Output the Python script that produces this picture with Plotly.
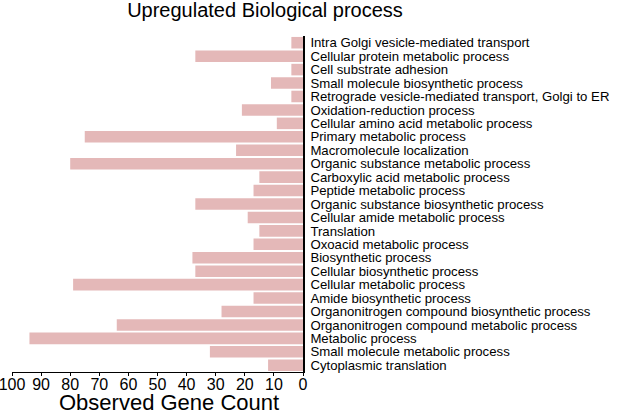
import plotly.graph_objects as go

categories = [
    "Intra Golgi vesicle-mediated transport",
    "Cellular protein metabolic process",
    "Cell substrate adhesion",
    "Small molecule biosynthetic process",
    "Retrograde vesicle-mediated transport, Golgi to ER",
    "Oxidation-reduction process",
    "Cellular amino acid metabolic process",
    "Primary metabolic process",
    "Macromolecule localization",
    "Organic substance metabolic process",
    "Carboxylic acid metabolic process",
    "Peptide metabolic process",
    "Organic substance biosynthetic process",
    "Cellular amide metabolic process",
    "Translation",
    "Oxoacid metabolic process",
    "Biosynthetic process",
    "Cellular biosynthetic process",
    "Cellular metabolic process",
    "Amide biosynthetic process",
    "Organonitrogen compound biosynthetic process",
    "Organonitrogen compound metabolic process",
    "Metabolic process",
    "Small molecule metabolic process",
    "Cytoplasmic translation",
]
counts = [4, 37, 4, 11, 4, 21, 9, 75, 23, 80, 15, 17, 37, 19, 15, 17, 38, 37, 79, 17, 28, 64, 94, 32, 12]
tick_vals = [100, 90, 80, 70, 60, 50, 40, 30, 20, 10, 0]

FONT = "Liberation Sans, Arial, sans-serif"

fig = go.Figure(
    go.Bar(
        x=counts,
        y=categories,
        orientation="h",
        marker=dict(color="rgb(228,184,184)", line=dict(width=0)),
        width=0.86,
    )
)

fig.update_layout(
    width=625,
    height=412,
    paper_bgcolor="white",
    plot_bgcolor="white",
    margin=dict(l=12, r=322, t=36, b=40, autoexpand=False),
    showlegend=False,
    font=dict(family=FONT, color="black"),
    title=dict(
        text="Upregulated Biological process",
        x=265 / 625,
        xanchor="center",
        y=1 - 10 / 412,
        yanchor="middle",
        font=dict(size=20, family=FONT, color="black"),
    ),
    annotations=[
        dict(
            text="Observed Gene Count",
            xref="paper",
            yref="paper",
            x=(169 - 12) / 291,
            y=0,
            yshift=-30,
            xanchor="center",
            yanchor="middle",
            showarrow=False,
            font=dict(size=22, family=FONT, color="black"),
        )
    ],
)

fig.update_xaxes(
    range=[100, 0],
    tickmode="array",
    tickvals=tick_vals,
    ticktext=[str(v) for v in tick_vals],
    showline=True,
    linecolor="black",
    linewidth=1,
    ticks="outside",
    ticklen=3,
    tickcolor="black",
    tickfont=dict(size=16, family=FONT, color="black"),
    ticklabelstandoff=-5,
    ticklabeloverflow="allow",
    automargin=False,
    showgrid=False,
    zeroline=False,
)

fig.update_yaxes(
    categoryorder="array",
    categoryarray=categories,
    tickmode="array",
    tickvals=categories,
    ticktext=categories,
    autorange="reversed",
    side="right",
    showline=True,
    linecolor="black",
    linewidth=1.5,
    ticks="",
    ticklabelstandoff=3,
    tickfont=dict(size=13.2, family=FONT, color="black"),
    ticklabeloverflow="allow",
    automargin=False,
    showgrid=False,
    zeroline=False,
)

fig.write_html(
    "out.html",
    config={"displayModeBar": False},
    post_script="document.body.style.margin='0';document.body.style.overflow='hidden';",
)
